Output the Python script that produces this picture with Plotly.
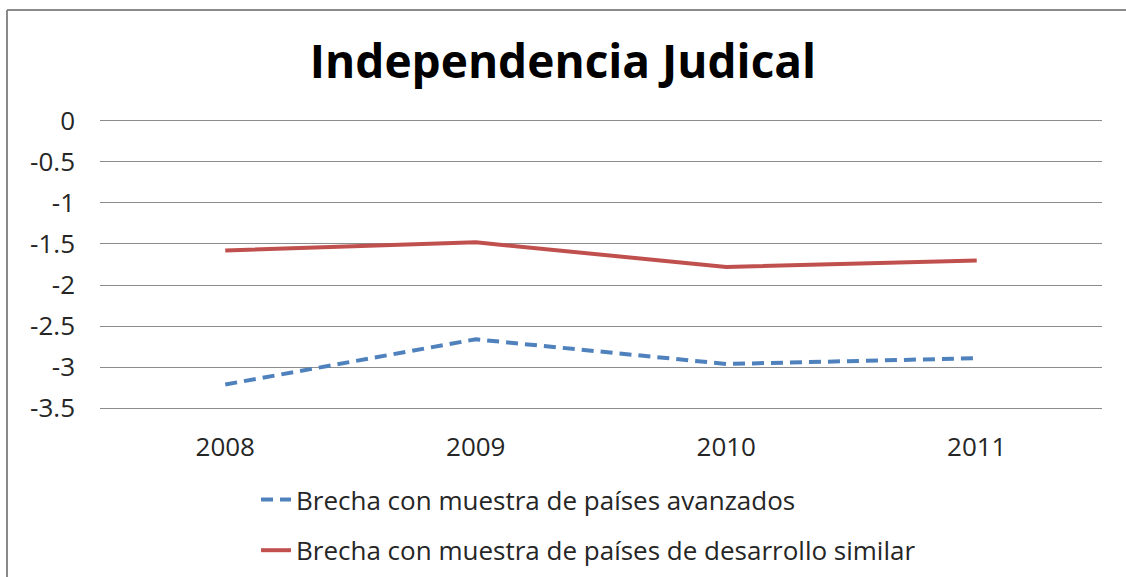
import plotly.graph_objects as go

years = ["2008", "2009", "2010", "2011"]
series_names = [
    "Brecha con muestra de países avanzados",
    "Brecha con muestra de países de desarrollo similar",
]
avanzados = [-3.21, -2.66, -2.96, -2.89]
similar = [-1.58, -1.48, -1.78, -1.70]
y_ticks = [0, -0.5, -1, -1.5, -2, -2.5, -3, -3.5]
y_tick_labels = ["0", "-0.5", "-1", "-1.5", "-2", "-2.5", "-3", "-3.5"]

W, H = 1126, 577
L, R, T, B = 100, 24, 119, 167
pw, ph = W - L - R, H - T - B

def px_x(p):
    return (p - L) / pw

def px_y(p):
    return (H - B - p) / ph

fig = go.Figure()
fig.add_trace(go.Scatter(
    x=years, y=avanzados, mode="lines", name=series_names[0],
    line=dict(color="#4F81BD", width=4, dash="12px,7px"),
    legendgroup="a",
))
fig.add_trace(go.Scatter(
    x=years, y=similar, mode="lines", name=series_names[1],
    line=dict(color="#C0504D", width=4),
    legendgroup="b",
))

font_family = "Open Sans, Liberation Sans, sans-serif"

fig.update_layout(
    width=W, height=H,
    margin=dict(l=L, r=R, t=T, b=B, autoexpand=False),
    paper_bgcolor="white", plot_bgcolor="white",
    font=dict(family=font_family, size=24, color="#262626"),
    title=dict(
        text="<b>Independencia Judical</b>",
        x=0.5, xref="container", xanchor="center",
        y=1 - 62 / H, yref="container", yanchor="middle",
        font=dict(family=font_family, size=46, color="black"),
    ),
    showlegend=True,
    legend=dict(
        orientation="v",
        x=px_x(256), xanchor="left",
        y=px_y(476), yanchor="top",
        font=dict(family=font_family, size=26, color="#262626"),
        bgcolor="rgba(0,0,0,0)",
        tracegroupgap=14,
        itemwidth=30,
    ),
    xaxis=dict(
        type="category", range=[-0.5, 3.5],
        showgrid=False, showline=False, zeroline=False,
        ticks="", ticklabelstandoff=19,
        tickfont=dict(size=26, color="#262626"),
    ),
    yaxis=dict(
        range=[-3.52, 0.02],
        tickvals=y_ticks, ticktext=y_tick_labels,
        showgrid=True, gridcolor="#8c8c8c", gridwidth=1.2,
        zeroline=False, showline=False,
        ticks="", ticklabelstandoff=24,
        tickfont=dict(size=26, color="#262626"),
    ),
    shapes=[
        dict(type="line", xref="paper", yref="paper",
             x0=px_x(7), x1=px_x(W + 5), y0=px_y(10), y1=px_y(10),
             line=dict(color="#8a8a8a", width=2)),
        dict(type="line", xref="paper", yref="paper",
             x0=px_x(7), x1=px_x(7), y0=px_y(10), y1=px_y(H + 5),
             line=dict(color="#8a8a8a", width=2)),
    ],
)

fig.write_html("out.html")
